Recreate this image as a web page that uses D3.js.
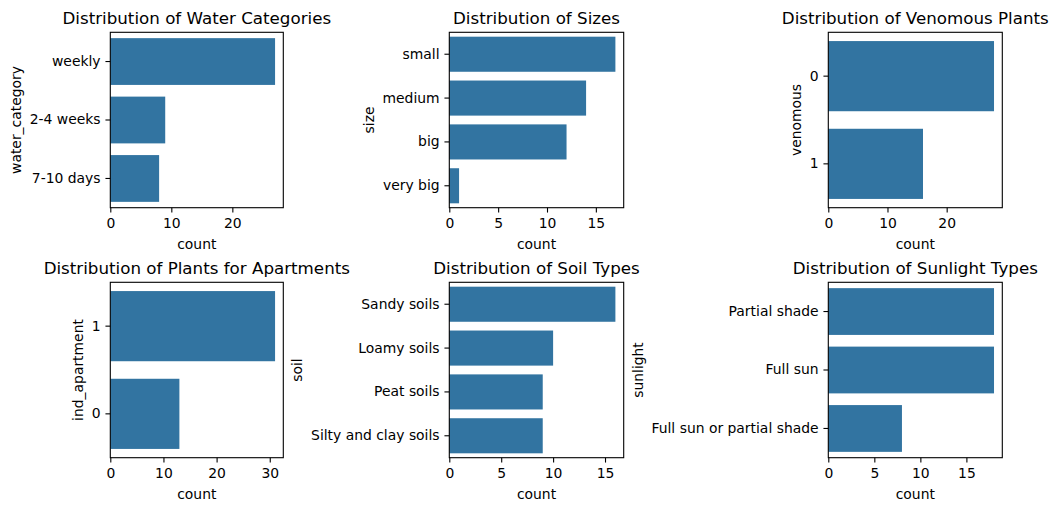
<!DOCTYPE html>
<html>
<head>
<meta charset="utf-8">
<script src="https://cdn.jsdelivr.net/npm/d3@7"></script>
<style>
  body { margin: 0; background: #fff; }
  svg { display: block; font-family: "DejaVu Sans", sans-serif; }
</style>
</head>
<body>
<svg id="svg" width="1057" height="511"></svg>
<script>
// data
var waterCategories = ["weekly", "2-4 weeks", "7-10 days"];
var waterCounts = [27, 9, 8];
var waterTicks = [0, 10, 20];

var sizeCategories = ["small", "medium", "big", "very big"];
var sizeCounts = [17, 14, 12, 1];
var sizeTicks = [0, 5, 10, 15];

var venomousCategories = ["0", "1"];
var venomousCounts = [28, 16];
var venomousTicks = [0, 10, 20];

var apartmentCategories = ["1", "0"];
var apartmentCounts = [31, 13];
var apartmentTicks = [0, 10, 20, 30];

var soilCategories = ["Sandy soils", "Loamy soils", "Peat soils", "Silty and clay soils"];
var soilCounts = [16, 10, 9, 9];
var soilTicks = [0, 5, 10, 15];

var sunlightCategories = ["Partial shade", "Full sun", "Full sun or partial shade"];
var sunlightCounts = [18, 18, 8];
var sunlightTicks = [0, 5, 10, 15];

var titles = [
  "Distribution of Water Categories",
  "Distribution of Sizes",
  "Distribution of Venomous Plants",
  "Distribution of Plants for Apartments",
  "Distribution of Soil Types",
  "Distribution of Sunlight Types"
];
var yLabels = ["water_category", "size", "venomous", "ind_apartment", "soil", "sunlight"];

var panels = [
  { cats: waterCategories, counts: waterCounts, ticks: waterTicks },
  { cats: sizeCategories, counts: sizeCounts, ticks: sizeTicks },
  { cats: venomousCategories, counts: venomousCounts, ticks: venomousTicks },
  { cats: apartmentCategories, counts: apartmentCounts, ticks: apartmentTicks },
  { cats: soilCategories, counts: soilCounts, ticks: soilTicks },
  { cats: sunlightCategories, counts: sunlightCounts, ticks: sunlightTicks }
];

// axes boxes (layout)
var colX = [[110.3, 283.3], [449.3, 623.7], [828.3, 1002.3]];
var rowY = [[32.3, 207.7], [282.3, 457.7]];

var barColor = "#3274a1";
var tickFont = 13.9;
var titleFont = 16.7;
var tickLen = 4.86;

var svg = d3.select("#svg");

panels.forEach(function (p, i) {
  var x0 = colX[i % 3][0], x1 = colX[i % 3][1];
  var y0 = rowY[Math.floor(i / 3)][0], y1 = rowY[Math.floor(i / 3)][1];

  var xScale = d3
    .scaleLinear()
    .domain([0, d3.max(p.counts) * 1.05])
    .range([x0, x1]);

  var yScale = d3
    .scaleBand()
    .domain(p.cats)
    .range([y0, y1])
    .paddingInner(0.2)
    .paddingOuter(0.1);

  var g = svg.append("g");

  // bars
  g.selectAll("rect.bar")
    .data(p.cats)
    .enter()
    .append("rect")
    .attr("class", "bar")
    .attr("x", xScale(0))
    .attr("y", function (d) { return yScale(d); })
    .attr("width", function (d, j) { return xScale(p.counts[j]) - xScale(0); })
    .attr("height", yScale.bandwidth())
    .attr("fill", barColor);

  // x axis
  var xAxis = g
    .append("g")
    .attr("transform", "translate(0," + y1 + ")")
    .call(d3.axisBottom(xScale).tickValues(p.ticks).tickFormat(d3.format("d"))
      .tickSize(tickLen).tickPadding(tickLen));

  // y axis
  var yAxis = g
    .append("g")
    .attr("transform", "translate(" + x0 + ",0)")
    .call(d3.axisLeft(yScale).tickSize(tickLen).tickPadding(tickLen));

  [xAxis, yAxis].forEach(function (ax) {
    ax.attr("font-family", null).attr("font-size", null);
    ax.select(".domain").remove();
    ax.selectAll(".tick line").attr("stroke", "#000").attr("stroke-width", 1.1);
    ax.selectAll(".tick text").attr("fill", "#000").style("font-size", tickFont + "px");
  });
  xAxis.selectAll(".tick text").attr("dy", "0.76em");

  // frame
  g.append("rect")
    .attr("x", x0)
    .attr("y", y0)
    .attr("width", x1 - x0)
    .attr("height", y1 - y0)
    .attr("fill", "none")
    .attr("stroke", "#000")
    .attr("stroke-width", 1.1);

  // title
  g.append("text")
    .attr("x", (x0 + x1) / 2)
    .attr("y", y0 - 8.3)
    .attr("text-anchor", "middle")
    .style("font-size", titleFont + "px")
    .text(titles[i]);

  // x label
  g.append("text")
    .attr("x", (x0 + x1) / 2)
    .attr("y", y1 + 41)
    .attr("text-anchor", "middle")
    .style("font-size", tickFont + "px")
    .text("count");

  // y label, placed left of the widest tick label
  var bb = yAxis.node().getBBox();
  var lx = x0 + bb.x - 8.9;
  g.append("text")
    .attr("transform", "translate(" + lx + "," + (y0 + y1) / 2 + ") rotate(-90)")
    .attr("text-anchor", "middle")
    .style("font-size", tickFont + "px")
    .text(yLabels[i]);
});
</script>
</body>
</html>
